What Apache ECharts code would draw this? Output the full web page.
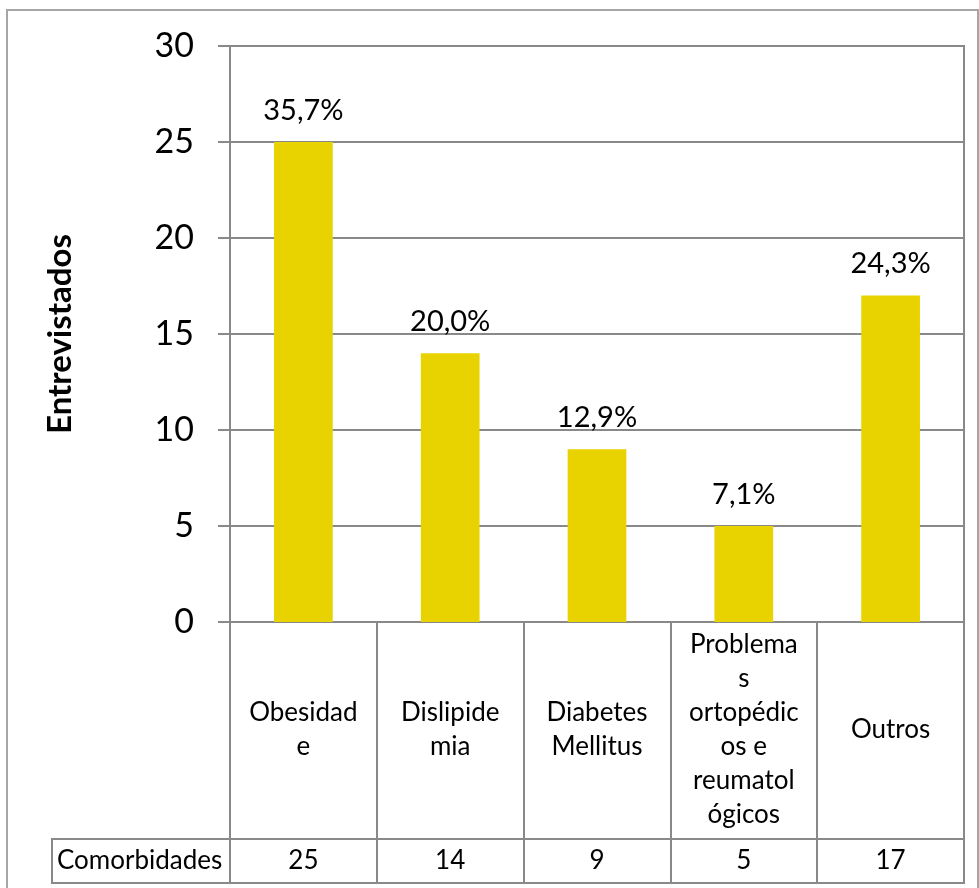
<!DOCTYPE html>
<html>
<head>
<meta charset="utf-8">
<script src="https://cdn.jsdelivr.net/npm/echarts@6/dist/echarts.min.js"></script>
<style>
  html, body { margin: 0; padding: 0; background: #fff; }
  #chart { width: 979px; height: 888px; }
</style>
</head>
<body>
<div id="chart"></div>
<script>
// dados
const categories = ['Obesidad\ne', 'Dislipide\nmia', 'Diabetes\nMellitus', 'Problema\ns\nortopédic\nos e\nreumatol\nógicos', 'Outros'];
const counts = [25, 14, 9, 5, 17];
const percentLabels = ['35,7%', '20,0%', '12,9%', '7,1%', '24,3%'];
const rowLabel = ['Comorbidades'];
const yMin = 0, yMax = 30, yStep = 5;

const lineColor = '#898989';

(function () {
  let mychart = echarts.init(document.getElementById('chart'));
  let option = {
    animation: false,
    textStyle: { fontFamily: 'Lato' },
    // moldura externa
    graphic: [
      {
        type: 'rect',
        shape: { x: 7, y: 10, width: 971, height: 900 },
        style: { fill: 'none', stroke: '#a6a6a6', lineWidth: 2 },
        silent: true,
      },
    ],
    grid: [
      // area do grafico
      { left: 230, right: 15, top: 46, height: 576, show: true, borderColor: lineColor, borderWidth: 2 },
      // tabela de categorias
      { left: 230, right: 15, top: 622, height: 261, show: true, borderColor: lineColor, borderWidth: 2 },
      // linha "Comorbidades"
      { left: 52, right: 15, top: 839, height: 44, show: true, borderColor: lineColor, borderWidth: 2 },
    ],
    xAxis: [
      {
        gridIndex: 0,
        type: 'category',
        data: categories,
        axisTick: { show: false },
        axisLine: { show: true, lineStyle: { color: lineColor, width: 2 } },
        axisLabel: {
          interval: 0,
          margin: 108,
          verticalAlign: 'middle',
          lineHeight: 34,
          fontSize: 26,
          color: '#000',
        },
      },
      {
        gridIndex: 1,
        type: 'category',
        data: counts.map(String),
        axisTick: { show: false },
        axisLine: { show: false },
        splitLine: { show: true, interval: 0, lineStyle: { color: lineColor, width: 2 } },
        axisLabel: {
          inside: true,
          interval: 0,
          margin: 22,
          verticalAlign: 'middle',
          fontSize: 26,
          color: '#000',
        },
      },
      { gridIndex: 2, type: 'value', show: false },
    ],
    yAxis: [
      {
        gridIndex: 0,
        type: 'value',
        min: yMin,
        max: yMax,
        interval: yStep,
        name: 'Entrevistados',
        nameLocation: 'middle',
        nameGap: 153,
        nameTextStyle: { fontSize: 33, fontWeight: 'bold', color: '#000' },
        axisLine: { show: true, lineStyle: { color: lineColor, width: 2 } },
        axisTick: { show: true, length: 12, lineStyle: { color: lineColor, width: 2 } },
        axisLabel: { margin: 36, fontSize: 34, color: '#000' },
        splitLine: { lineStyle: { color: lineColor, width: 2 } },
      },
      { gridIndex: 1, type: 'value', show: false },
      {
        gridIndex: 2,
        type: 'category',
        data: rowLabel,
        axisTick: { show: false },
        axisLine: { show: false },
        axisLabel: { inside: true, margin: 5, fontSize: 26, color: '#000' },
      },
    ],
    series: [
      {
        name: 'Comorbidades',
        type: 'bar',
        xAxisIndex: 0,
        yAxisIndex: 0,
        data: counts,
        barWidth: '40%',
        itemStyle: { color: '#e8d300' },
        label: {
          show: true,
          position: 'top',
          distance: 17,
          fontSize: 29,
          color: '#000',
          formatter: function (p) {
            return percentLabels[p.dataIndex];
          },
        },
      },
    ],
  };
  mychart.setOption(option);
})();
</script>
</body>
</html>
